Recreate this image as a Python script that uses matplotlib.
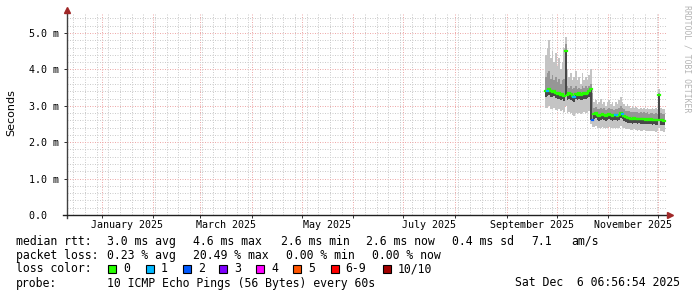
import numpy as np
import pandas as pd
import matplotlib
matplotlib.use("Agg")
import matplotlib.pyplot as plt
import matplotlib.dates as mdates
import matplotlib.transforms as mtransforms
from matplotlib.patches import Rectangle

# ---- data (ms), one bin per day starting 2025-09-24 ----
start_day = "2025-09-24"
median = [3.40, 3.42, 3.45, 3.40, 3.38, 3.42, 3.36, 3.33, 3.35, 3.30, 3.33, 3.28, 4.50, 3.30,
          3.35, 3.32, 3.27, 3.25, 3.33, 3.30, 3.34, 3.30, 3.32, 3.35, 3.33, 3.36, 3.40, 3.45,
          2.62, 2.78, 2.80, 2.75, 2.72, 2.75, 2.78, 2.76, 2.72, 2.74, 2.78, 2.76, 2.72, 2.74,
          2.76, 2.72, 2.75, 2.80, 2.78, 2.72, 2.68, 2.66,
          2.66, 2.65, 2.64, 2.66, 2.65, 2.64, 2.65, 2.64, 2.63, 2.64, 2.62, 2.63, 2.62, 2.63,
          2.61, 2.62, 2.60, 2.61, 3.30, 2.60, 2.61, 2.59]
hi = [4.40, 4.60, 4.80, 4.30, 4.50, 4.20, 4.45, 4.10, 4.30, 4.00, 4.20, 4.60, 4.90, 4.00,
      3.80, 3.90, 3.70, 3.80, 3.95, 3.70, 3.80, 3.60, 3.90, 3.70, 3.80, 3.70, 3.85, 4.00,
      3.50, 3.10, 3.15, 3.05, 3.10, 3.20, 3.05, 3.10, 3.00, 3.10, 3.15, 3.05, 3.10, 3.00,
      3.10, 3.05, 3.15, 3.25, 3.10, 3.05, 3.00, 3.05,
      3.00, 2.95, 3.00, 2.95, 2.98, 2.95, 2.92, 2.95, 2.90, 2.95, 2.92, 2.95, 2.90, 2.92,
      2.95, 2.90, 2.95, 2.92, 3.45, 2.95, 2.90, 2.92]
q3 = [3.80, 3.90, 3.95, 3.75, 3.85, 3.70, 3.80, 3.65, 3.75, 3.60, 3.70, 3.75, 4.70, 3.55,
      3.50, 3.55, 3.45, 3.50, 3.55, 3.45, 3.50, 3.45, 3.55, 3.50, 3.55, 3.50, 3.55, 3.60,
      3.35, 2.95, 2.98, 2.92, 2.90, 2.95, 2.92, 2.95, 2.88, 2.92, 2.95, 2.90, 2.92, 2.88,
      2.92, 2.90, 2.95, 3.00, 2.95, 2.90, 2.85, 2.85,
      2.85, 2.82, 2.84, 2.82, 2.83, 2.82, 2.80, 2.82, 2.80, 2.82, 2.80, 2.82, 2.78, 2.80,
      2.80, 2.78, 2.80, 2.78, 3.35, 2.80, 2.78, 2.78]
q1 = [3.25, 3.27, 3.30, 3.25, 3.23, 3.27, 3.21, 3.18, 3.20, 3.15, 3.18, 3.13, 3.30, 3.15,
      3.20, 3.17, 3.12, 3.10, 3.18, 3.15, 3.19, 3.15, 3.17, 3.20, 3.18, 3.21, 3.25, 2.60,
      2.58, 2.64, 2.66, 2.61, 2.58, 2.61, 2.64, 2.62, 2.58, 2.60, 2.64, 2.62, 2.58, 2.60,
      2.62, 2.58, 2.61, 2.66, 2.64, 2.58, 2.55, 2.53,
      2.53, 2.52, 2.51, 2.53, 2.52, 2.51, 2.52, 2.51, 2.50, 2.51, 2.49, 2.50, 2.49, 2.50,
      2.48, 2.49, 2.47, 2.48, 2.60, 2.47, 2.48, 2.46]
lo = [2.95, 2.95, 3.00, 2.92, 2.90, 2.95, 2.88, 2.85, 2.90, 2.85, 2.88, 2.82, 3.00, 2.80,
      2.82, 2.80, 2.75, 2.72, 2.80, 2.78, 2.80, 2.78, 2.80, 2.82, 2.80, 2.82, 2.85, 2.50,
      2.42, 2.42, 2.45, 2.40, 2.38, 2.40, 2.42, 2.40, 2.38, 2.40, 2.42, 2.40, 2.38, 2.40,
      2.40, 2.38, 2.40, 2.45, 2.42, 2.38, 2.36, 2.35,
      2.35, 2.34, 2.33, 2.35, 2.34, 2.32, 2.34, 2.32, 2.32, 2.33, 2.30, 2.32, 2.30, 2.31,
      2.30, 2.30, 2.29, 2.30, 2.40, 2.30, 2.30, 2.28]
loss = [0] * 72
for i, v in [(1, 1), (17, 1), (28, 2), (42, 1), (46, 1)]:
    loss[i] = v

loss_labels = ["0", "1", "2", "3", "4", "5", "6-9", "10/10"]
loss_colors = ["#26ff00", "#00b8ff", "#0059ff", "#7e00ff", "#ff00ff", "#ff5500", "#ff0000", "#a10000"]

y_major = [0, 1, 2, 3, 4, 5]
y_labels = ["0.0  ", "1.0 m", "2.0 m", "3.0 m", "4.0 m", "5.0 m"]
month_labels = {"2025-01": "January 2025", "2025-03": "March 2025", "2025-05": "May 2025",
                "2025-07": "July 2025", "2025-09": "September 2025", "2025-11": "November 2025"}

W, H = 697, 297
MONO = "DejaVu Sans Mono"

fig = plt.figure(figsize=(W / 100, H / 100), dpi=100)
fig.patch.set_facecolor("white")
ax = fig.add_axes([67 / W, 1 - 215 / H, 600 / W, 202 / H])

t_end = pd.Timestamp("2025-12-06 06:56:54")
t_start = t_end - pd.Timedelta(days=360)
ax.set_xlim(mdates.date2num(t_start), mdates.date2num(t_end))
ax.set_ylim(0, 5.55)

# ---- smoke + median ----
days = pd.date_range(start_day, periods=len(median) + 1, freq="D")
x = mdates.date2num(days)
def ext(a):
    return np.append(a, a[-1])
ax.fill_between(x, ext(lo), ext(hi), step="post", color="#c4c4c4", lw=0, zorder=3)
ax.fill_between(x, ext(q1), ext(q3), step="post", color="#969696", lw=0, zorder=3)
ax.fill_between(x, ext(q1), ext(median), step="post", color="#484848", lw=0, zorder=3)
for i, m in enumerate(median):
    ax.hlines(m, x[i], x[i + 1], color=loss_colors[min(loss[i], 6)], lw=1.6,
              capstyle="projecting", zorder=5 if loss[i] else 4)

# ---- grid & ticks ----
months = pd.date_range("2025-01-01", "2025-12-01", freq="MS")
weeks = pd.date_range("2024-12-15", "2025-12-06", freq="W-SUN")
ax.set_xticks(mdates.date2num(months))
ax.set_xticks(mdates.date2num(weeks), minor=True)
ax.set_xticklabels([])
ax.set_yticks(y_major)
ax.set_yticks(np.arange(0, 5.6, 0.2), minor=True)
ax.set_yticklabels(y_labels, fontfamily=MONO, fontsize=7.2)
ax.grid(which="minor", color="#cccccc", linestyle=(0, (1, 1.5)), lw=0.72, zorder=1)
ax.grid(which="major", color="#eeaaaa", linestyle=(0, (1, 1.5)), lw=0.72, zorder=2)
ax.tick_params(which="major", direction="out", length=2.5, width=0.72, color="#333333",
               pad=3, labelsize=7.2)
ax.tick_params(which="minor", length=0)
ax.set_axisbelow(True)
for s in ax.spines.values():
    s.set_visible(False)

# month labels centred on month
trans = mtransforms.blended_transform_factory(ax.transData, ax.transAxes)
for k, lab in month_labels.items():
    m0 = pd.Timestamp(k + "-01")
    m1 = m0 + pd.offsets.MonthBegin(1)
    mid = mdates.date2num(m0) + (mdates.date2num(m1) - mdates.date2num(m0)) / 2
    ax.text(mid, -9.5 / 202, lab, transform=trans, ha="center", va="center",
            fontfamily=MONO, fontsize=7.2)

# axes lines with arrows
ax.plot([0, 0], [-3 / 202, 1 + 2 / 202], transform=ax.transAxes, color="#404040",
        lw=1, clip_on=False, zorder=6)
ax.plot([-4 / 600, 1 + 2 / 600], [0, 0], transform=ax.transAxes, color="#202020",
        lw=1, clip_on=False, zorder=6)
ax.plot([0], [1 + 3 / 202], marker="^", ms=4.5, color="#a02828", transform=ax.transAxes,
        clip_on=False, zorder=7)
ax.plot([1 + 3 / 600], [0], marker=">", ms=4.5, color="#a02828", transform=ax.transAxes,
        clip_on=False, zorder=7)

fig.text(11 / W, 1 - 113 / H, "Seconds", rotation=90, ha="center", va="center",
         fontfamily="DejaVu Sans", fontsize=8)
fig.text(687 / W, 1 - 5 / H, "RRDTOOL / TOBI OETIKER", rotation=270, ha="center", va="top",
         fontfamily=MONO, fontsize=5.9, color="#b4b4b4")

# ---- legend ----
def put(xp, yp, s, ha="left"):
    fig.text(xp / W, 1 - yp / H, s, ha=ha, va="center", fontfamily=MONO, fontsize=8.3)

put(16, 241.5, "median rtt:")
put(107, 241.5, "3.0 ms avg")
put(192.7, 241.5, "4.6 ms max")
put(281, 241.5, "2.6 ms min")
put(365.5, 241.5, "2.6 ms now")
put(451.7, 241.5, "0.4 ms sd")
put(531.7, 241.5, "7.1")
put(571.7, 241.5, "am/s")

put(16, 255.3, "packet loss:")
put(107, 255.3, "0.23 % avg")
put(192.7, 255.3, "20.49 % max")
put(285.7, 255.3, "0.00 % min")
put(371.7, 255.3, "0.00 % now")

put(16, 269, "loss color:")
box_x = [108.3, 145.7, 182.7, 219.3, 256, 293.3, 330.7, 383]
for bx, c, lab in zip(box_x, loss_colors, loss_labels):
    fig.add_artist(Rectangle((bx / W, 1 - 272.7 / H), 8 / W, 8 / H, transform=fig.transFigure,
                             facecolor=c, edgecolor="black", lw=0.8))
    put(bx + 15, 269, lab)

put(16, 283, "probe:")
put(107, 283, "10 ICMP Echo Pings (56 Bytes) every 60s")
put(680, 283, "Sat Dec  6 06:56:54 2025", ha="right")

fig.savefig("out.png", dpi=100, facecolor="white")
